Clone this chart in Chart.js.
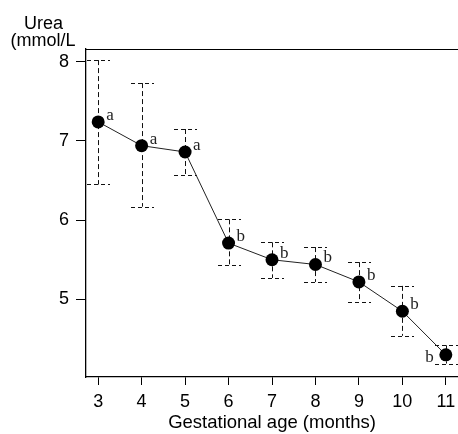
<!DOCTYPE html>
<html>
<head>
<meta charset="utf-8">
<script src="https://cdn.jsdelivr.net/npm/chart.js@4/dist/chart.umd.min.js"></script>
<style>
html,body{margin:0;padding:0;background:#fff;}
#c{display:block;}
</style>
</head>
<body>
<canvas id="c" width="458" height="434"></canvas>
<script>
// ---- data ----
const months = [3, 4, 5, 6, 7, 8, 9, 10, 11];
const ureaMean = [7.24, 6.94, 6.86, 5.71, 5.50, 5.44, 5.22, 4.85, 4.30];
const ureaUpper = [8.02, 7.73, 7.15, 6.01, 5.72, 5.66, 5.47, 5.17, 4.42];
const ureaLower = [6.45, 6.17, 6.57, 5.43, 5.27, 5.22, 4.97, 4.54, 4.19];
const sigLetters = ['a', 'a', 'a', 'b', 'b', 'b', 'b', 'b', 'b'];
const xTicks = [3, 4, 5, 6, 7, 8, 9, 10, 11];
const yTicks = [5, 6, 7, 8];
const yTitleLines = ['Urea', '(mmol/L'];
const xTitle = 'Gestational age (months)';

const SANS = '"Liberation Sans", Arial, sans-serif';
const SERIF = '"Liberation Serif", "Times New Roman", serif';

const extras = {
  id: 'extras',
  afterDatasetsDraw(chart) {
    const ctx = chart.ctx;
    const ca = chart.chartArea;
    ctx.save();
    ctx.strokeStyle = '#000';
    ctx.lineWidth = 1.2;
    ctx.setLineDash([]);
    ctx.beginPath();
    ctx.moveTo(ca.left, ca.top + 0.5);
    ctx.lineTo(ca.right, ca.top + 0.5);
    ctx.stroke();
    ctx.restore();
  },
  beforeDatasetsDraw(chart) {
    const ctx = chart.ctx;
    const xs = chart.scales.x, ys = chart.scales.y;
    ctx.save();
    ctx.strokeStyle = '#111';
    ctx.lineWidth = 1;
    const capHalf = 11.5;
    months.forEach((m, i) => {
      const px = Math.round(xs.getPixelForValue(m)) + 0.5;
      const yu = ys.getPixelForValue(ureaUpper[i]);
      const yl = ys.getPixelForValue(ureaLower[i]);
      ctx.setLineDash([5, 3]);
      ctx.beginPath();
      ctx.moveTo(px, yu);
      ctx.lineTo(px, yl);
      ctx.stroke();
      ctx.setLineDash([4, 3]);
      [yu, yl].forEach(y => {
        const yy = Math.round(y) + 0.5;
        ctx.beginPath();
        ctx.moveTo(px - capHalf, yy);
        ctx.lineTo(px + capHalf, yy);
        ctx.stroke();
      });
    });
    ctx.restore();
  },
  afterDraw(chart) {
    const ctx = chart.ctx;
    const xs = chart.scales.x, ys = chart.scales.y;
    ctx.save();
    ctx.fillStyle = '#222';
    ctx.font = '17px ' + SERIF;
    ctx.textBaseline = 'alphabetic';
    months.forEach((m, i) => {
      const px = xs.getPixelForValue(m);
      const py = ys.getPixelForValue(ureaMean[i]);
      if (i === months.length - 1) {
        ctx.textAlign = 'right';
        ctx.fillText(sigLetters[i], px - 12, py + 7);
      } else {
        ctx.textAlign = 'left';
        ctx.fillText(sigLetters[i], px + 8, py - 2);
      }
    });
    ctx.fillStyle = '#000';
    ctx.font = '18px ' + SANS;
    ctx.textAlign = 'center';
    ctx.fillText(yTitleLines[0], 43.5, 28.5);
    ctx.fillText(yTitleLines[1], 43, 45.5);
    ctx.restore();
  }
};

new Chart(document.getElementById('c'), {
  type: 'scatter',
  data: {
    datasets: [{
      data: months.map((m, i) => ({ x: m, y: ureaMean[i] })),
      showLine: true,
      clip: false,
      borderColor: '#222',
      borderWidth: 1,
      pointRadius: 6.5,
      pointBackgroundColor: '#000',
      pointBorderColor: '#000',
      pointBorderWidth: 0
    }]
  },
  options: {
    responsive: false,
    animation: false,
    events: [],
    layout: { autoPadding: false, padding: { top: 49, right: 0, left: 0, bottom: 0 } },
    plugins: { legend: { display: false }, tooltip: { enabled: false } },
    scales: {
      x: {
        type: 'linear',
        min: 2.72,
        max: 11.28,
        afterFit(s) { s.height = 57; s.paddingLeft = 0; s.paddingRight = 0; },
        afterBuildTicks(s) { s.ticks = xTicks.map(v => ({ value: v })); },
        border: { display: true, color: '#000', width: 1.3 },
        grid: { display: true, drawOnChartArea: false, drawTicks: true, tickLength: 8, color: '#000', lineWidth: 1 },
        ticks: { color: '#000', padding: 6, maxRotation: 0, font: { family: SANS, size: 18 } },
        title: { display: true, text: xTitle, color: '#000', padding: { top: 0, bottom: 0 }, font: { family: SANS, size: 18.5 } }
      },
      y: {
        type: 'linear',
        min: 4.02,
        max: 8.16,
        afterFit(s) { s.width = 86; s.paddingTop = 0; s.paddingBottom = 0; },
        afterBuildTicks(s) { s.ticks = yTicks.map(v => ({ value: v })); },
        border: { display: true, color: '#000', width: 1.3 },
        grid: { display: true, drawOnChartArea: false, drawTicks: true, tickLength: 10, color: '#000', lineWidth: 1 },
        ticks: { color: '#000', padding: 7, font: { family: SANS, size: 18 } }
      }
    }
  },
  plugins: [extras]
});
</script>
</body>
</html>
